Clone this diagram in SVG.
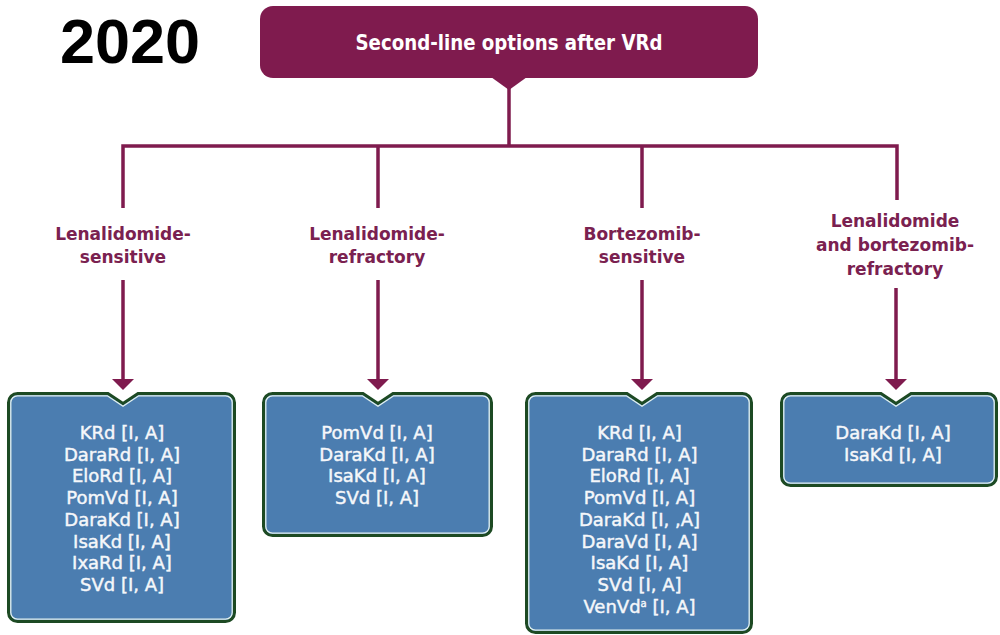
<svg xmlns="http://www.w3.org/2000/svg" width="1000" height="635" viewBox="0 0 1000 635">
<style>
.conn{fill:none;stroke:#7f1b4e;stroke-width:3.5}
.lbl{font-family:"DejaVu Sans",sans-serif;font-weight:bold;font-size:17px;fill:#7a2150;text-anchor:middle}
.outer{fill:#4b7db0;stroke:#1d4a23;stroke-width:3}
.inner{fill:none;stroke:#e3f1ee;stroke-width:1.3}
.bt{font-family:"DejaVu Sans",sans-serif;font-size:18px;fill:#f5f7fa;stroke:#f5f7fa;stroke-width:0.45;text-anchor:middle}
</style>
<defs>
<marker id="ah" markerUnits="userSpaceOnUse" markerWidth="11" markerHeight="22" refX="0" refY="11" orient="auto" viewBox="0 0 11 22">
<path d="M0,0 L11,11 L0,22 Z" fill="#7f1b4e"/>
</marker>
</defs>
<rect width="1000" height="635" fill="#ffffff"/>
<text id="year" x="60" y="63" font-family="Liberation Sans, Arial, sans-serif" font-weight="bold" font-size="63" fill="#000000">2020</text>
<g id="root">
<rect x="260" y="6" width="498" height="72" rx="13" fill="#7f1b4e"/>
<polygon points="491,77 527,77 509,90" fill="#7f1b4e"/>
<text x="509" y="50" font-family="DejaVu Sans, sans-serif" font-weight="bold" font-size="20.5" fill="#ffffff" text-anchor="middle" textLength="307" lengthAdjust="spacingAndGlyphs">Second-line options after VRd</text>
</g>
<g id="connectors">
<path class="conn" d="M509,88 V146 M123,208 V146 H897 V200 M378,146 V208 M642,146 V208"/>
<line class="conn" x1="123" y1="280" x2="123" y2="379" marker-end="url(#ah)"/>
<line class="conn" x1="378" y1="280" x2="378" y2="379" marker-end="url(#ah)"/>
<line class="conn" x1="642" y1="280" x2="642" y2="379" marker-end="url(#ah)"/>
<line class="conn" x1="896" y1="288" x2="896" y2="379" marker-end="url(#ah)"/>
</g>
<g id="label1"><text class="lbl"><tspan x="123" y="240">Lenalidomide-</tspan><tspan x="123" y="263">sensitive</tspan></text></g>
<g id="label2"><text class="lbl"><tspan x="377" y="240">Lenalidomide-</tspan><tspan x="377" y="263">refractory</tspan></text></g>
<g id="label3"><text class="lbl"><tspan x="642" y="240">Bortezomib-</tspan><tspan x="642" y="263">sensitive</tspan></text></g>
<g id="label4"><text class="lbl"><tspan x="895" y="227">Lenalidomide</tspan><tspan x="895" y="251">and bortezomib-</tspan><tspan x="895" y="275">refractory</tspan></text></g>
<g id="box1">
<path class="outer" d="M17.5,393.5 H108 L123,403.5 L138,393.5 H225.5 A9,9 0 0 1 234.5,402.5 V612.5 A9,9 0 0 1 225.5,621.5 H17.5 A9,9 0 0 1 8.5,612.5 V402.5 A9,9 0 0 1 17.5,393.5 Z"/>
<path class="inner" d="M17.5,395.8 H107.3 L123,406.3 L138.7,395.8 H225.5 A6.7,6.7 0 0 1 232.2,402.5 V612.5 A6.7,6.7 0 0 1 225.5,619.2 H17.5 A6.7,6.7 0 0 1 10.8,612.5 V402.5 A6.7,6.7 0 0 1 17.5,395.8 Z"/>
<text class="bt"><tspan x="122" y="439">KRd [I, A]</tspan><tspan x="122" dy="21.7">DaraRd [I, A]</tspan><tspan x="122" dy="21.7">EloRd [I, A]</tspan><tspan x="122" dy="21.7">PomVd [I, A]</tspan><tspan x="122" dy="21.7">DaraKd [I, A]</tspan><tspan x="122" dy="21.7">IsaKd [I, A]</tspan><tspan x="122" dy="21.7">IxaRd [I, A]</tspan><tspan x="122" dy="21.7">SVd [I, A]</tspan></text>
</g>
<g id="box2">
<path class="outer" d="M272.5,393.5 H363 L378,403.5 L393,393.5 H482.5 A9,9 0 0 1 491.5,402.5 V526.5 A9,9 0 0 1 482.5,535.5 H272.5 A9,9 0 0 1 263.5,526.5 V402.5 A9,9 0 0 1 272.5,393.5 Z"/>
<path class="inner" d="M272.5,395.8 H362.3 L378,406.3 L393.7,395.8 H482.5 A6.7,6.7 0 0 1 489.2,402.5 V526.5 A6.7,6.7 0 0 1 482.5,533.2 H272.5 A6.7,6.7 0 0 1 265.8,526.5 V402.5 A6.7,6.7 0 0 1 272.5,395.8 Z"/>
<text class="bt"><tspan x="377" y="439">PomVd [I, A]</tspan><tspan x="377" dy="21.7">DaraKd [I, A]</tspan><tspan x="377" dy="21.7">IsaKd [I, A]</tspan><tspan x="377" dy="21.7">SVd [I, A]</tspan></text>
</g>
<g id="box3">
<path class="outer" d="M535.5,393.5 H627 L642,403.5 L657,393.5 H742.5 A9,9 0 0 1 751.5,402.5 V623.5 A9,9 0 0 1 742.5,632.5 H535.5 A9,9 0 0 1 526.5,623.5 V402.5 A9,9 0 0 1 535.5,393.5 Z"/>
<path class="inner" d="M535.5,395.8 H626.3 L642,406.3 L657.7,395.8 H742.5 A6.7,6.7 0 0 1 749.2,402.5 V623.5 A6.7,6.7 0 0 1 742.5,630.2 H535.5 A6.7,6.7 0 0 1 528.8,623.5 V402.5 A6.7,6.7 0 0 1 535.5,395.8 Z"/>
<text class="bt"><tspan x="639.5" y="439">KRd [I, A]</tspan><tspan x="639.5" dy="21.7">DaraRd [I, A]</tspan><tspan x="639.5" dy="21.7">EloRd [I, A]</tspan><tspan x="639.5" dy="21.7">PomVd [I, A]</tspan><tspan x="639.5" dy="21.7">DaraKd [I, ,A]</tspan><tspan x="639.5" dy="21.7">DaraVd [I, A]</tspan><tspan x="639.5" dy="21.7">IsaKd [I, A]</tspan><tspan x="639.5" dy="21.7">SVd [I, A]</tspan></text>
<text class="bt" x="639.5" y="612.6">VenVd<tspan font-size="10" dy="-6">a</tspan><tspan dy="6"> [I, A]</tspan></text>
</g>
<g id="box4">
<path class="outer" d="M790.5,393.5 H881 L896,403.5 L911,393.5 H987.5 A9,9 0 0 1 996.5,402.5 V476.5 A9,9 0 0 1 987.5,485.5 H790.5 A9,9 0 0 1 781.5,476.5 V402.5 A9,9 0 0 1 790.5,393.5 Z"/>
<path class="inner" d="M790.5,395.8 H880.3 L896,406.3 L911.7,395.8 H987.5 A6.7,6.7 0 0 1 994.2,402.5 V476.5 A6.7,6.7 0 0 1 987.5,483.2 H790.5 A6.7,6.7 0 0 1 783.8,476.5 V402.5 A6.7,6.7 0 0 1 790.5,395.8 Z"/>
<text class="bt"><tspan x="893" y="439">DaraKd [I, A]</tspan><tspan x="893" dy="21.7">IsaKd [I, A]</tspan></text>
</g>
</svg>
